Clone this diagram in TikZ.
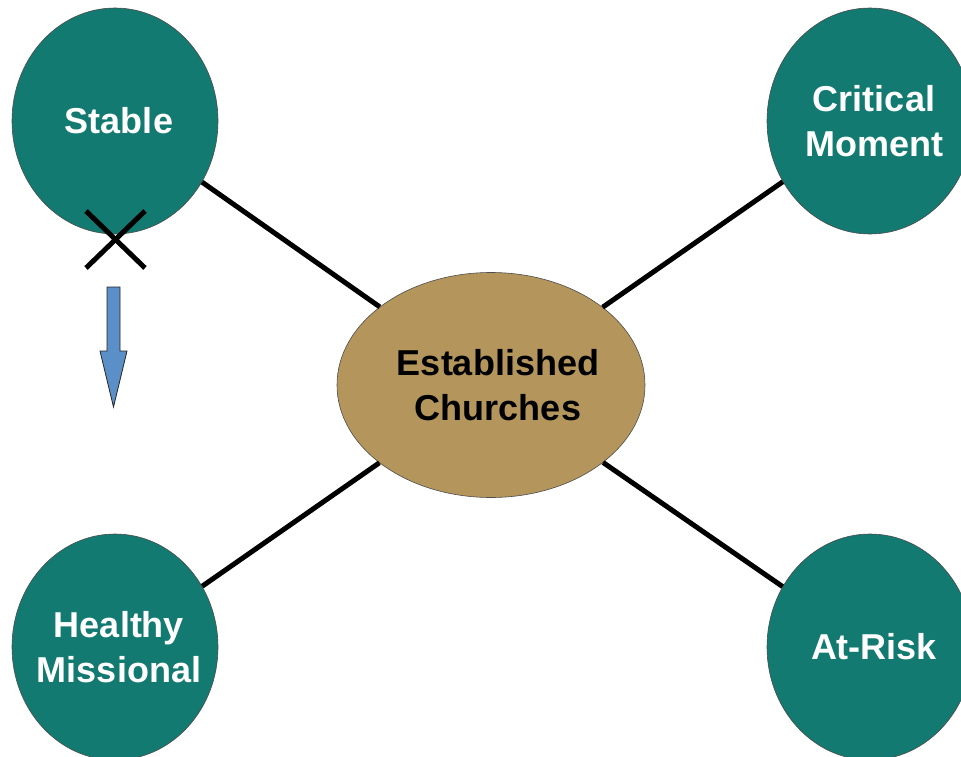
\documentclass[tikz,border=0pt]{standalone}
\usepackage{fontspec}
\setmainfont{Liberation Sans}
\usetikzlibrary{shapes.geometric}
\definecolor{tealfill}{HTML}{127A70}
\definecolor{tanfill}{HTML}{B4965C}
\definecolor{arrowblue}{HTML}{5B8FC7}
\begin{document}
\begin{tikzpicture}[x=1pt,y=-1pt,
  caption/.style={text=white, align=center, font=\fontsize{36}{45}\selectfont\bfseries},
  stage/.style={ellipse, draw=black!70, line width=0.6pt, fill=tealfill,
    minimum width=206pt, minimum height=226pt, inner sep=0pt,
    label={[caption, xshift=4pt]center:#1}},
  hub/.style={ellipse, draw=black!70, line width=0.6pt, fill=tanfill,
    minimum width=308pt, minimum height=225pt, inner sep=0pt,
    label={[caption, text=black, xshift=7pt]center:#1}},
  link/.style={line width=5pt, black},
  cross/.style={line width=5pt, black}]
\useasboundingbox (0,0) rectangle (961,757);
\clip (0,0) rectangle (961,757);

% central hub and the four stages
\node[hub={Established\\Churches}] (est) at (491,385) {};
\node[stage={Stable}] (stable) at (115,121) {};
\node[stage={Critical\\Moment}] (critical) at (870,121) {};
\node[stage={Healthy\\Missional}] (healthy) at (115,647) {};
\node[stage={At-Risk}] (risk) at (870,647) {};

% spokes
\draw[link] (stable) -- (est);
\draw[link] (critical) -- (est);
\draw[link] (healthy) -- (est);
\draw[link] (risk) -- (est);

% cross under the Stable stage
\coordinate (xa) at (86,211);
\coordinate (xb) at (145,268);
\coordinate (xc) at (145,211);
\coordinate (xd) at (86,268);
\draw[cross] (xa) -- (xb);
\draw[cross] (xc) -- (xd);

% downward block arrow
\draw[fill=arrowblue, draw=black!85, line width=0.8pt]
  (107,287) -- (120,287) -- (120,351) -- (127,351) -- (113.5,407)
  -- (100,351) -- (107,351) -- cycle;
\end{tikzpicture}
\end{document}
